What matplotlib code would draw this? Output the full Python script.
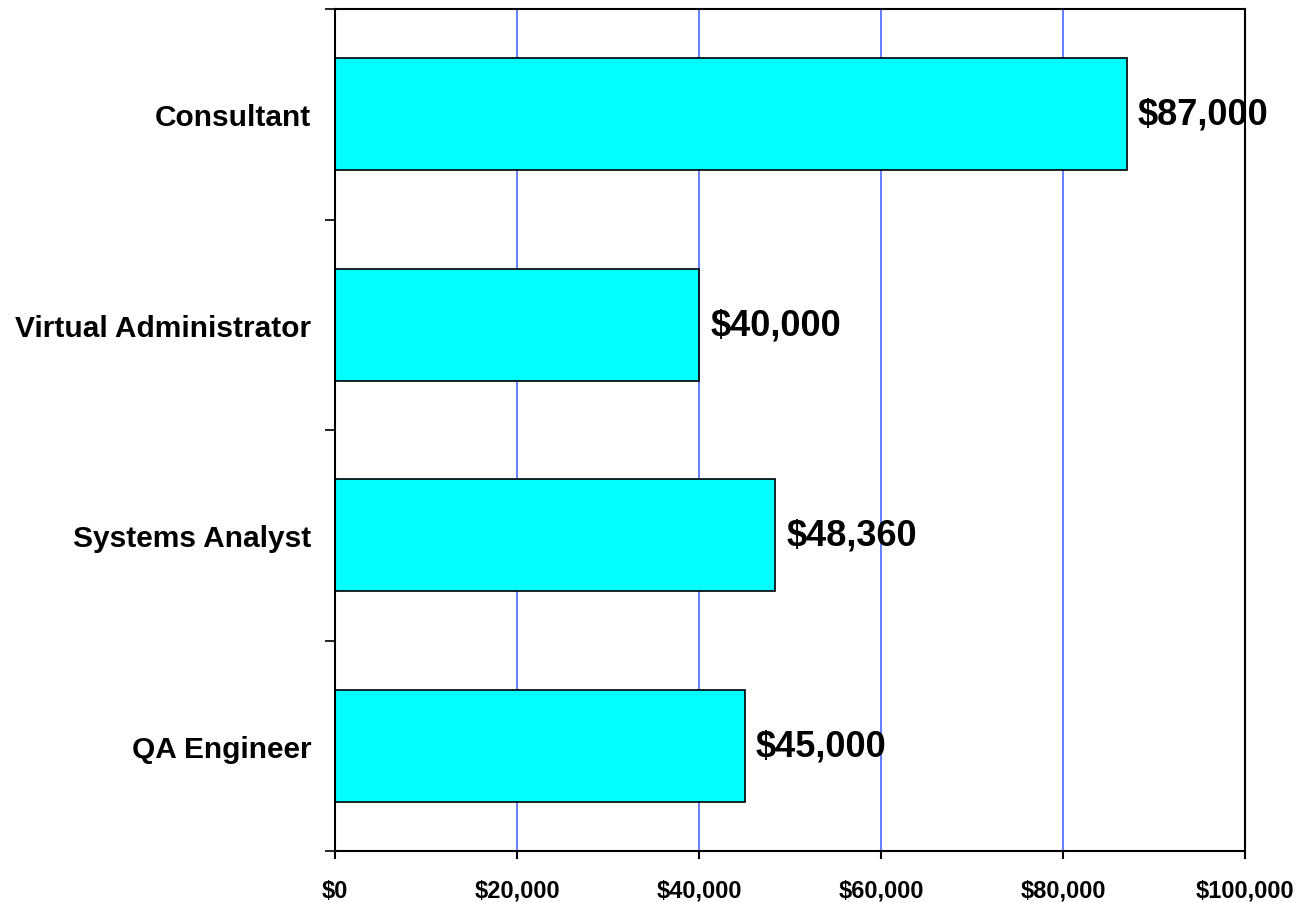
import numpy as np
import matplotlib
matplotlib.use('Agg')
import matplotlib.pyplot as plt
from matplotlib.ticker import FuncFormatter, FixedLocator

roles = ['Consultant', 'Virtual Administrator', 'Systems Analyst', 'QA Engineer']
salaries = [87000, 40000, 48360, 45000]
xticks = [0, 20000, 40000, 60000, 80000, 100000]

plt.rcParams['font.family'] = ['Liberation Sans', 'DejaVu Sans']
plt.rcParams['font.weight'] = 'bold'

fig = plt.figure(figsize=(13.04, 9.03), dpi=100)
ax = fig.add_axes([335 / 1304, 1 - 852 / 903, 910 / 1304, 842 / 903])

y = np.arange(len(roles))
ax.barh(y, salaries, height=0.53, color='#00FFFF', edgecolor='black', linewidth=1.2, zorder=3)

# value labels just right of each bar
for yi, v in zip(y, salaries):
    ax.annotate(f'${v:,.0f}', (v, yi), xytext=(8, 0), textcoords='offset points',
                ha='left', va='center', fontsize=26, fontweight='bold', zorder=4)

ax.set_xlim(0, 100000)
ax.set_ylim(len(roles) - 0.5, -0.5)
ax.set_xticks(xticks)
ax.xaxis.set_major_formatter(FuncFormatter(lambda v, p: f'${v:,.0f}'))
ax.tick_params(axis='x', length=6, width=1.5, pad=14, labelsize=17, direction='out')

ax.set_yticks(y)
ax.set_yticklabels(roles, fontsize=21.5, fontweight='bold')
ax.tick_params(axis='y', which='major', length=0, pad=17)
ax.yaxis.set_minor_locator(FixedLocator(np.arange(-0.5, len(roles), 1.0)))
ax.tick_params(axis='y', which='minor', length=7, width=1.2, direction='out')

ax.grid(axis='x', color='#3A5CFF', linewidth=1.1, zorder=1)
for s in ax.spines.values():
    s.set_linewidth(1.5)
    s.set_color('black')
    s.set_zorder(5)

fig.savefig('out.png', dpi=100)
